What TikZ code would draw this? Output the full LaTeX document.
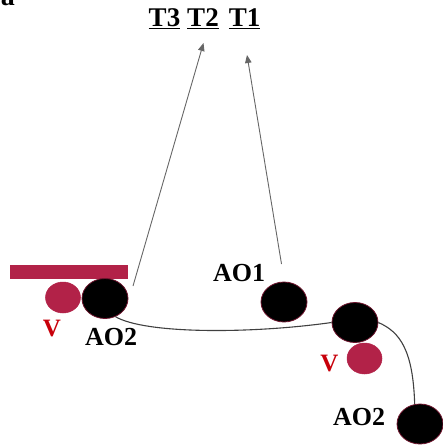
\documentclass[tikz,border=0pt]{standalone}
\usepackage{fontspec}
\setmainfont{Liberation Serif}
\usetikzlibrary{shapes.geometric,arrows.meta}
\definecolor{crim}{RGB}{178,34,72}
\definecolor{vred}{RGB}{200,0,10}
\definecolor{rim}{RGB}{110,20,45}
\tikzset{
  blackball/.style={ellipse, fill=black, draw=rim, line width=0.8pt, minimum width=46pt, minimum height=40pt, inner sep=0pt},
  redball/.style={ellipse, fill=crim, draw=crim, line width=0.5pt, minimum width=35pt, minimum height=31pt, inner sep=0pt},
  lbl/.style={font=\bfseries\fontsize{26}{30}\selectfont, inner sep=0pt},
  tlbl/.style={font=\bfseries\fontsize{27}{30}\selectfont, inner sep=0pt},
  vlbl/.style={font=\bfseries\fontsize{25}{28}\selectfont, text=vred, inner sep=0pt},
  pointer/.style={draw=gray!80!black, line width=0.9pt, -{Triangle[length=8pt,width=6.5pt]}},
  link/.style={draw=black!75, line width=1.1pt}
}
\begin{document}
\begin{tikzpicture}[x=1pt,y=-1pt]
\useasboundingbox (0,0) rectangle (442,446);
% cropped panel letter
\node[font=\bfseries\fontsize{28}{30}\selectfont, anchor=base, inner sep=0pt] (panel) at (8,6) {a};
% top labels
\node[tlbl, anchor=base] (T3) at (164.5,27) {\underline{T3}};
\node[tlbl, anchor=base] (T2) at (203,27) {\underline{T2}};
\node[tlbl, anchor=base] (T1) at (244.5,27) {\underline{T1}};
% left group
\node[fill=crim, minimum width=118pt, minimum height=14pt, inner sep=0pt] (bar) at (69,272) {};
\node[redball] (vL) at (63,297.5) {};
\node[blackball] (aoL) at (105,298.5) {};
\node[vlbl] (vLl) at (52,328.5) {V};
\node[lbl] (aoLl) at (111,337) {AO2};
% AO1
\node[blackball] (ao1) at (284,302) {};
\node[lbl] (ao1l) at (239,273) {AO1};
% right group
\node[redball] (vR) at (364.5,358.5) {};
\node[blackball] (aoR) at (355,322.5) {};
\node[vlbl] (vRl) at (329.5,363.5) {V};
% bottom AO2
\node[blackball] (aoB) at (420,424) {};
\node[lbl] (aoBl) at (359,417) {AO2};
% pointer start points
\coordinate (pL) at (133,286);
\coordinate (p1) at (281.5,264);
\draw[pointer] (pL) -- (203.5,43) coordinate (tip2);
\draw[pointer] (p1) -- (247,55) coordinate (tip1);
% connecting curves
\draw[link] (aoL.-60) .. controls (145,334) and (250,334) .. (aoR.west);
\draw[link] (aoR.east) .. controls (400,332) and (413,350) .. (aoB.105);
\end{tikzpicture}
\end{document}
